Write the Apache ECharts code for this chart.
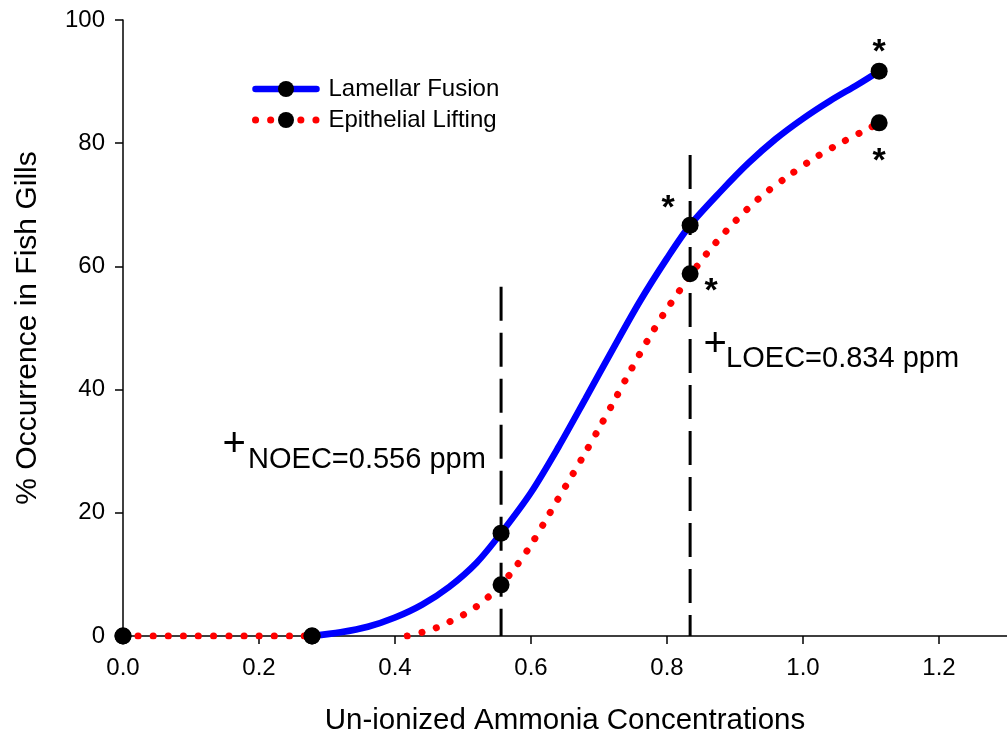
<!DOCTYPE html>
<html>
<head>
<meta charset="utf-8">
<script src="https://cdn.jsdelivr.net/npm/echarts@6/dist/echarts.min.js"></script>
<style>
  html, body { margin: 0; padding: 0; background: #fff; }
  #chart { width: 1007px; height: 741px; }
</style>
</head>
<body>
<div id="chart"></div>
<script>
// Observed occurrence (%) at each un-ionized ammonia concentration (ppm)
const concX = [0, 0.278, 0.556, 0.834, 1.112];
const lamellarY = [0, 0, 16.7, 66.7, 91.7];
const epithelialY = [0, 0, 8.3, 58.8, 83.3];
// Observations flagged as significant (asterisk)
const lamellarSig = [false, false, false, true, true];
const epithelialSig = [false, false, false, true, true];

// Fitted response curves
const lamellarFitX = [0.278, 0.32, 0.36, 0.40, 0.44, 0.48, 0.52, 0.556, 0.60, 0.64, 0.68, 0.72, 0.76, 0.80, 0.834, 0.88, 0.92, 0.96, 1.00, 1.04, 1.08, 1.112];
const lamellarFitY = [0, 0.6, 1.5, 3.0, 5.1, 8.0, 11.9, 16.7, 23.3, 30.6, 38.5, 46.5, 54.3, 61.3, 66.7, 72.3, 76.8, 80.7, 84.0, 86.9, 89.5, 91.7];
// null marks the break between the baseline segment and the fitted curve
const epithelialFitX = [0, 0.278, 0.35, 0.418, 0.44, 0.46, 0.48, 0.50, 0.52, 0.54, 0.556, 0.58, 0.60, 0.62, 0.64, 0.66, 0.68, 0.70, 0.72, 0.74, 0.76, 0.78, 0.80, 0.834, 0.86, 0.90, 0.94, 0.98, 1.02, 1.06, 1.10, 1.112];
const epithelialFitY = [0, 0, null, 0, 0.6, 1.3, 2.3, 3.4, 4.8, 6.6, 8.3, 11.6, 14.8, 18.5, 22.3, 26.0, 29.8, 33.7, 37.7, 41.8, 45.8, 49.6, 53.1, 58.5, 62.3, 67.3, 71.5, 74.8, 77.8, 80.3, 82.6, 83.3];

// Threshold concentrations and the height of their marker lines (%)
const noecValue = 0.556;
const loecValue = 0.834;
const noecLineTop = 56.7;
const loecLineTop = 78.1;

const xTickValues = [0, 0.2, 0.4, 0.6, 0.8, 1.0, 1.2];
const yTickValues = [0, 20, 40, 60, 80, 100];

const FONT = 'Liberation Sans, Arial, sans-serif';
const BLUE = '#0000ff';
const RED = '#ff0000';

const pairs = (xs, ys) => xs.map((x, i) => [x, ys[i] === null ? '-' : ys[i]]);

// asterisk placement relative to its marker (px)
const lamellarStarOffset = { 3: [-22, -17], 4: [0, -19] };
const epithelialStarOffset = { 3: [21, 18], 4: [0, 39] };

function markerData(ys, sig, offsets) {
  return concX.map((x, i) => {
    const item = { value: [x, ys[i]] };
    if (sig[i]) {
      item.label = {
        show: true, formatter: '*', position: 'inside', offset: offsets[i],
        fontSize: 34, fontWeight: 'bold', color: '#000', fontFamily: FONT,
        align: 'center', verticalAlign: 'middle'
      };
    }
    return item;
  });
}

const chart = echarts.init(document.getElementById('chart'), null, { renderer: 'canvas' });

const axisCommon = {
  axisLine: { show: true, onZero: false, lineStyle: { color: '#000', width: 1.5 } },
  splitLine: { show: false },
  nameLocation: 'middle',
  nameTextStyle: { fontSize: 29.5, color: '#000', fontFamily: FONT }
};

const option = {
  backgroundColor: '#fff',
  animation: false,
  grid: { left: 123, right: 0, top: 20, bottom: 104, containLabel: false },
  legend: {
    data: ['Lamellar Fusion', 'Epithelial Lifting'],
    orient: 'vertical',
    left: 247,
    top: 72,
    itemWidth: 61,
    itemHeight: 20,
    itemGap: 7,
    textStyle: { fontSize: 24, color: '#000', fontFamily: FONT, padding: [0, 0, 0, 7] },
    lineStyle: { width: 'inherit', type: 'inherit', cap: 'inherit' },
    selectedMode: false
  },
  xAxis: Object.assign({}, axisCommon, {
    type: 'value', min: 0, max: 1.3,
    name: 'Un-ionized Ammonia Concentrations', nameGap: 70,
    axisTick: { show: true, length: 8, customValues: xTickValues, lineStyle: { color: '#000', width: 1.5 } },
    axisLabel: { customValues: xTickValues, formatter: v => v.toFixed(1), fontSize: 24, color: '#000', fontFamily: FONT, margin: 20 }
  }),
  yAxis: Object.assign({}, axisCommon, {
    type: 'value', min: 0, max: 100, interval: 20,
    name: '% Occurrence in Fish Gills', nameGap: 80,
    nameTextStyle: { fontSize: 30, color: '#000', fontFamily: FONT },
    axisTick: { show: true, length: 8, lineStyle: { color: '#000', width: 1.5 } },
    axisLabel: { fontSize: 24, color: '#000', fontFamily: FONT, margin: 18 }
  }),
  series: [
    {
      name: 'NOEC', type: 'line', silent: true, symbol: 'none', z: 2,
      data: [[noecValue, noecLineTop], [noecValue, 0]],
      lineStyle: { color: '#000', width: 3, type: [34, 12] }
    },
    {
      name: 'LOEC', type: 'line', silent: true, symbol: 'none', z: 2,
      data: [[loecValue, loecLineTop], [loecValue, 0]],
      lineStyle: { color: '#000', width: 3, type: [34, 12] }
    },
    {
      name: 'Lamellar Fusion', type: 'line', z: 3,
      data: pairs(lamellarFitX, lamellarFitY),
      smooth: 0.3, symbol: 'circle', symbolSize: 16, showSymbol: false,
      itemStyle: { color: '#000', opacity: 1 },
      lineStyle: { color: BLUE, width: 6.5, cap: 'round' }
    },
    {
      name: 'Epithelial Lifting', type: 'line', z: 3,
      data: pairs(epithelialFitX, epithelialFitY),
      smooth: 0.3, symbol: 'circle', symbolSize: 16, showSymbol: false, connectNulls: false,
      itemStyle: { color: '#000', opacity: 1 },
      lineStyle: { color: RED, width: 7, type: [0.1, 15], cap: 'round' }
    },
    {
      name: 'lamellar-obs', type: 'scatter', z: 5, symbol: 'circle', symbolSize: 17,
      itemStyle: { color: '#000', opacity: 1 },
      data: markerData(lamellarY, lamellarSig, lamellarStarOffset)
    },
    {
      name: 'epithelial-obs', type: 'scatter', z: 5, symbol: 'circle', symbolSize: 17,
      itemStyle: { color: '#000', opacity: 1 },
      data: markerData(epithelialY, epithelialSig, epithelialStarOffset)
    }
  ]
};

chart.setOption(option);

// Threshold annotations, anchored to the threshold lines
const toPx = (x, y) => chart.convertToPixel({ gridIndex: 0 }, [x, y]);
const noecPx = toPx(noecValue, 28.5);
const loecPx = toPx(loecValue, 45.0);
const plusNoec = toPx(noecValue, 31.0);
const plusLoec = toPx(loecValue, 47.3);

chart.setOption({
  graphic: [
    { type: 'text', x: noecPx[0] - 253, y: noecPx[1], z: 10,
      style: { text: 'NOEC=0.556 ppm', font: '29px ' + FONT, fill: '#000', align: 'left', verticalAlign: 'middle' } },
    { type: 'text', x: plusNoec[0] - 267, y: plusNoec[1], z: 10,
      style: { text: '+', font: '40px ' + FONT, fill: '#000', align: 'center', verticalAlign: 'middle' } },
    { type: 'text', x: loecPx[0] + 36, y: loecPx[1], z: 10,
      style: { text: 'LOEC=0.834 ppm', font: '29px ' + FONT, fill: '#000', align: 'left', verticalAlign: 'middle' } },
    { type: 'text', x: plusLoec[0] + 25, y: plusLoec[1], z: 10,
      style: { text: '+', font: '40px ' + FONT, fill: '#000', align: 'center', verticalAlign: 'middle' } }
  ]
});
</script>
</body>
</html>
